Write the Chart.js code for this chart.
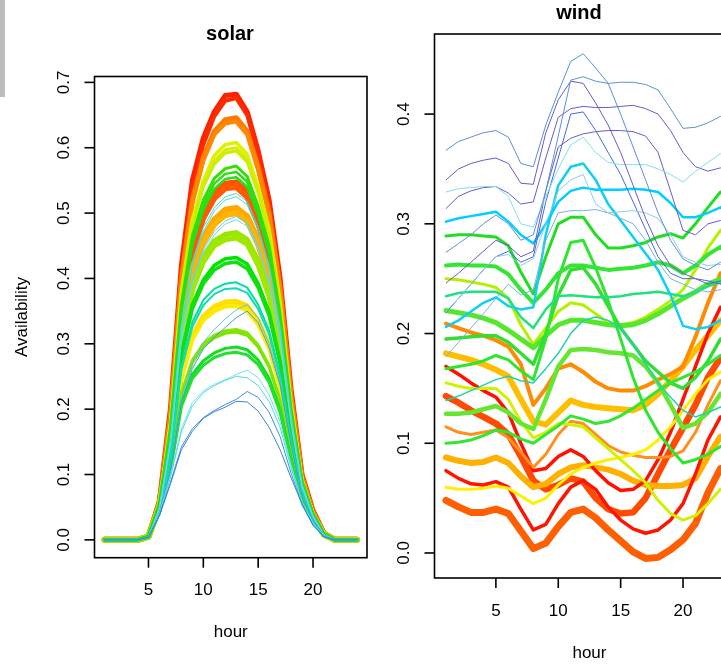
<!DOCTYPE html>
<html>
<head>
<meta charset="utf-8">
<title>solar / wind availability</title>
<script src="https://cdn.jsdelivr.net/npm/chart.js@4.4.1/dist/chart.umd.min.js"></script>
<style>
  html, body { margin: 0; padding: 0; background: #fff; }
  #page { position: relative; width: 721px; height: 665px; overflow: hidden; background: #fff; }
  #page canvas { position: absolute; left: 0; top: 0; }
  #strip { position: absolute; left: 0; top: 0; width: 5px; height: 97px; background: #bdbdbd; }
</style>
</head>
<body>
<div id="page">
  <div id="strip"></div>
  <canvas id="solarChart" width="721" height="665"></canvas>
  <canvas id="windChart" width="760" height="665"></canvas>
</div>
<script>
// hours of the day and axis tick labels
const hours = [1,2,3,4,5,6,7,8,9,10,11,12,13,14,15,16,17,18,19,20,21,22,23,24];
const hourTicks = [5, 10, 15, 20];
const solarTicks = [0.0, 0.1, 0.2, 0.3, 0.4, 0.5, 0.6, 0.7];
const windTicks = [0.0, 0.1, 0.2, 0.3, 0.4];

// solar availability profiles, one row per profile
const solarValues = [
  [0,0,0,0,0.005,0.06,0.20,0.42,0.55,0.615,0.655,0.680,0.682,0.655,0.595,0.52,0.40,0.23,0.10,0.045,0.01,0,0,0],
  [0,0,0,0,0.005,0.06,0.19,0.41,0.54,0.605,0.648,0.672,0.676,0.650,0.590,0.515,0.395,0.225,0.098,0.043,0.01,0,0,0],
  [0,0,0,0,0.005,0.058,0.19,0.40,0.52,0.585,0.625,0.643,0.646,0.625,0.57,0.50,0.385,0.22,0.097,0.043,0.01,0,0,0],
  [0,0,0,0,0.005,0.057,0.185,0.39,0.515,0.58,0.62,0.637,0.640,0.62,0.565,0.495,0.38,0.215,0.095,0.042,0.01,0,0,0],
  [0,0,0,0,0.005,0.054,0.165,0.345,0.445,0.50,0.53,0.545,0.547,0.532,0.49,0.432,0.333,0.193,0.087,0.038,0.009,0,0,0],
  [0,0,0,0,0.005,0.053,0.162,0.34,0.44,0.493,0.523,0.538,0.540,0.525,0.485,0.427,0.33,0.19,0.086,0.038,0.009,0,0,0],
  [0,0,0,0,0.005,0.052,0.155,0.325,0.415,0.462,0.49,0.505,0.508,0.495,0.458,0.404,0.313,0.183,0.083,0.037,0.008,0,0,0],
  [0,0,0,0,0.005,0.051,0.152,0.32,0.408,0.455,0.483,0.497,0.500,0.488,0.452,0.398,0.31,0.181,0.082,0.036,0.008,0,0,0],
  [0,0,0,0,0.005,0.046,0.125,0.25,0.312,0.342,0.357,0.364,0.365,0.358,0.335,0.298,0.237,0.143,0.068,0.031,0.007,0,0,0],
  [0,0,0,0,0.005,0.045,0.123,0.246,0.306,0.336,0.35,0.357,0.358,0.351,0.329,0.293,0.233,0.141,0.067,0.03,0.007,0,0,0],
  [0,0,0,0,0.005,0.057,0.18,0.38,0.49,0.55,0.588,0.605,0.608,0.59,0.54,0.475,0.365,0.21,0.093,0.041,0.01,0,0,0],
  [0,0,0,0,0.005,0.056,0.178,0.375,0.485,0.545,0.58,0.597,0.600,0.583,0.535,0.47,0.36,0.207,0.092,0.04,0.01,0,0,0],
  [0,0,0,0,0.005,0.056,0.175,0.37,0.48,0.54,0.575,0.592,0.595,0.578,0.53,0.465,0.357,0.205,0.091,0.04,0.01,0,0,0],
  [0,0,0,0,0.005,0.05,0.148,0.305,0.388,0.432,0.457,0.467,0.470,0.459,0.426,0.377,0.294,0.173,0.079,0.035,0.008,0,0,0],
  [0,0,0,0,0.005,0.05,0.146,0.3,0.382,0.425,0.45,0.459,0.462,0.452,0.42,0.372,0.29,0.171,0.078,0.035,0.008,0,0,0],
  [0,0,0,0,0.005,0.043,0.115,0.225,0.275,0.3,0.313,0.32,0.322,0.317,0.298,0.267,0.214,0.132,0.064,0.029,0.007,0,0,0],
  [0,0,0,0,0.005,0.043,0.113,0.222,0.271,0.296,0.309,0.316,0.318,0.313,0.295,0.264,0.212,0.131,0.063,0.029,0.007,0,0,0],
  [0,0,0,0,0.005,0.055,0.17,0.36,0.465,0.52,0.553,0.568,0.572,0.556,0.51,0.45,0.345,0.2,0.09,0.04,0.009,0,0,0],
  [0,0,0,0,0.005,0.054,0.168,0.355,0.458,0.512,0.545,0.560,0.563,0.548,0.503,0.443,0.34,0.197,0.089,0.039,0.009,0,0,0],
  [0,0,0,0,0.005,0.054,0.165,0.35,0.452,0.505,0.537,0.552,0.555,0.54,0.497,0.437,0.336,0.195,0.088,0.039,0.009,0,0,0],
  [0,0,0,0,0.005,0.048,0.14,0.285,0.36,0.398,0.42,0.43,0.432,0.422,0.392,0.348,0.273,0.162,0.075,0.034,0.008,0,0,0],
  [0,0,0,0,0.005,0.047,0.138,0.28,0.354,0.392,0.413,0.423,0.425,0.415,0.386,0.343,0.27,0.16,0.074,0.033,0.008,0,0,0],
  [0,0,0,0,0.005,0.042,0.108,0.208,0.253,0.274,0.286,0.293,0.295,0.291,0.275,0.247,0.199,0.124,0.061,0.028,0.006,0,0,0],
  [0,0,0,0,0.005,0.041,0.106,0.204,0.247,0.267,0.279,0.285,0.287,0.283,0.268,0.241,0.195,0.122,0.06,0.027,0.006,0,0,0],
  [0,0,0,0,0.004,0.045,0.13,0.265,0.333,0.367,0.384,0.392,0.394,0.386,0.36,0.32,0.253,0.152,0.071,0.032,0.007,0,0,0],
  [0,0,0,0,0.004,0.045,0.128,0.26,0.326,0.359,0.376,0.384,0.385,0.378,0.353,0.314,0.249,0.15,0.07,0.031,0.007,0,0,0],
  [0,0,0,0,0.004,0.05,0.155,0.33,0.425,0.478,0.508,0.525,0.530,0.518,0.478,0.42,0.325,0.19,0.085,0.037,0.008,0,0,0],
  [0,0,0,0,0.004,0.05,0.152,0.325,0.42,0.472,0.503,0.52,0.525,0.513,0.473,0.416,0.322,0.188,0.084,0.037,0.008,0,0,0],
  [0,0,0,0,0.004,0.048,0.148,0.31,0.398,0.445,0.472,0.488,0.495,0.485,0.45,0.396,0.307,0.18,0.081,0.036,0.008,0,0,0],
  [0,0,0,0,0.004,0.047,0.145,0.305,0.393,0.44,0.467,0.483,0.490,0.48,0.446,0.392,0.304,0.178,0.08,0.035,0.008,0,0,0],
  [0,0,0,0,0.004,0.042,0.11,0.215,0.27,0.302,0.322,0.338,0.352,0.360,0.34,0.30,0.24,0.147,0.07,0.031,0.007,0,0,0],
  [0,0,0,0,0.004,0.041,0.107,0.21,0.262,0.292,0.31,0.325,0.34,0.350,0.332,0.294,0.236,0.145,0.069,0.03,0.007,0,0,0],
  [0,0,0,0,0.004,0.04,0.098,0.17,0.21,0.228,0.238,0.245,0.253,0.260,0.248,0.222,0.18,0.115,0.058,0.026,0.006,0,0,0],
  [0,0,0,0,0.004,0.039,0.095,0.165,0.205,0.225,0.236,0.244,0.250,0.248,0.236,0.212,0.172,0.11,0.056,0.025,0.006,0,0,0],
  [0,0,0,0,0.004,0.038,0.088,0.142,0.17,0.187,0.198,0.207,0.215,0.227,0.218,0.195,0.158,0.102,0.053,0.023,0.005,0,0,0],
  [0,0,0,0,0.004,0.037,0.085,0.138,0.166,0.186,0.196,0.203,0.212,0.211,0.197,0.172,0.138,0.095,0.055,0.022,0.005,0,0,0]
];
const solarColors = [
  '#ff2000','#ff2a00','#ff7a00','#ff8800','#ff5200','#ff5a00','#ffa800','#ffb400','#ffe000','#ffea00',
  '#e0f000','#d4f000','#ccee00','#9ae600','#a0e800','#88e600','#80e400','#33e000','#2ee010','#22e020',
  '#00e400','#10e010','#10e020','#20e030','#00e0a0','#10ddb0','#40e0d0','#50d8e0','#60d0f0','#70d8f0',
  '#58c0ee','#3aa0e0','#70e0f0','#50d8e8','#3c8fe0','#3a84d8'
];
const solarWidths = [
  5, 4, 5, 4, 6, 6, 6, 6, 5, 4,
  3.5, 3, 3, 5.5, 5, 3, 3, 3, 2.5, 2.5,
  3.5, 3.5, 3, 3, 2, 2, 1, 1, 1, 1,
  1, 1, 1, 1, 1, 1
];

// wind availability profiles, one row per profile
const windValues = [
  [0.048,0.042,0.037,0.037,0.040,0.036,0.020,0.004,0.009,0.024,0.037,0.040,0.032,0.021,0.011,0.001,-0.005,-0.004,0.003,0.012,0.027,0.055,0.077,0.076],
  [0.143,0.137,0.130,0.124,0.118,0.108,0.088,0.066,0.058,0.062,0.068,0.065,0.050,0.040,0.036,0.037,0.050,0.072,0.094,0.114,0.135,0.160,0.178,0.175],
  [0.087,0.084,0.082,0.083,0.087,0.082,0.070,0.060,0.063,0.072,0.078,0.080,0.078,0.076,0.072,0.066,0.062,0.061,0.061,0.062,0.068,0.088,0.106,0.108],
  [0.182,0.179,0.176,0.172,0.167,0.161,0.140,0.120,0.117,0.128,0.139,0.135,0.133,0.132,0.131,0.130,0.135,0.145,0.157,0.170,0.185,0.198,0.212,0.208],
  [0.170,0.163,0.155,0.148,0.142,0.128,0.100,0.075,0.077,0.088,0.094,0.088,0.075,0.064,0.057,0.058,0.066,0.085,0.110,0.140,0.170,0.200,0.224,0.218],
  [0.075,0.068,0.063,0.062,0.065,0.060,0.040,0.021,0.026,0.045,0.060,0.066,0.058,0.042,0.030,0.022,0.018,0.021,0.030,0.045,0.072,0.103,0.124,0.121],
  [0.209,0.205,0.201,0.198,0.194,0.188,0.172,0.135,0.150,0.168,0.172,0.165,0.156,0.150,0.148,0.148,0.152,0.158,0.163,0.170,0.197,0.228,0.255,0.252],
  [0.115,0.110,0.108,0.110,0.112,0.105,0.092,0.078,0.090,0.108,0.120,0.118,0.108,0.098,0.092,0.089,0.087,0.087,0.088,0.093,0.110,0.135,0.157,0.155],
  [0.060,0.058,0.058,0.059,0.061,0.059,0.052,0.045,0.050,0.062,0.072,0.078,0.082,0.085,0.087,0.090,0.094,0.103,0.115,0.130,0.145,0.158,0.165,0.162],
  [0.155,0.152,0.150,0.150,0.150,0.140,0.120,0.105,0.110,0.118,0.117,0.115,0.105,0.095,0.085,0.075,0.064,0.048,0.036,0.030,0.034,0.045,0.058,0.057],
  [0.250,0.249,0.247,0.245,0.242,0.232,0.208,0.190,0.205,0.220,0.228,0.226,0.218,0.210,0.208,0.210,0.215,0.222,0.230,0.240,0.258,0.278,0.294,0.287],
  [0.127,0.127,0.128,0.131,0.134,0.128,0.118,0.113,0.140,0.170,0.185,0.186,0.185,0.183,0.182,0.180,0.170,0.155,0.135,0.114,0.118,0.128,0.145,0.141],
  [0.221,0.219,0.217,0.214,0.210,0.203,0.195,0.187,0.198,0.208,0.212,0.212,0.210,0.208,0.207,0.208,0.212,0.218,0.225,0.232,0.238,0.245,0.250,0.242],
  [0.262,0.263,0.262,0.262,0.261,0.254,0.240,0.228,0.240,0.255,0.262,0.262,0.260,0.258,0.259,0.260,0.262,0.265,0.262,0.255,0.262,0.272,0.279,0.272],
  [0.195,0.196,0.197,0.198,0.198,0.192,0.182,0.172,0.200,0.235,0.258,0.260,0.245,0.225,0.205,0.190,0.175,0.165,0.155,0.150,0.160,0.175,0.195,0.193],
  [0.168,0.170,0.172,0.175,0.180,0.176,0.166,0.158,0.195,0.250,0.283,0.285,0.260,0.230,0.195,0.160,0.130,0.110,0.095,0.082,0.085,0.090,0.097,0.095],
  [0.100,0.101,0.103,0.107,0.112,0.110,0.104,0.100,0.108,0.116,0.125,0.122,0.118,0.120,0.125,0.132,0.140,0.148,0.155,0.160,0.165,0.172,0.180,0.176],
  [0.289,0.290,0.290,0.289,0.288,0.280,0.256,0.236,0.270,0.300,0.306,0.306,0.290,0.278,0.278,0.280,0.283,0.288,0.291,0.287,0.300,0.315,0.329,0.320],
  [0.234,0.237,0.238,0.238,0.238,0.232,0.215,0.205,0.222,0.234,0.235,0.234,0.233,0.233,0.234,0.236,0.237,0.238,0.236,0.234,0.238,0.243,0.247,0.230],
  [0.206,0.212,0.220,0.228,0.233,0.225,0.222,0.224,0.290,0.335,0.352,0.355,0.340,0.318,0.303,0.288,0.273,0.258,0.235,0.207,0.204,0.206,0.212,0.206],
  [0.302,0.305,0.307,0.309,0.311,0.302,0.290,0.282,0.300,0.320,0.330,0.333,0.331,0.331,0.331,0.332,0.331,0.329,0.319,0.306,0.306,0.310,0.315,0.306],
  [0.139,0.143,0.148,0.153,0.158,0.161,0.157,0.155,0.168,0.182,0.200,0.212,0.215,0.212,0.205,0.190,0.172,0.155,0.142,0.130,0.124,0.128,0.133,0.127],
  [0.179,0.192,0.205,0.218,0.232,0.245,0.235,0.240,0.285,0.310,0.312,0.312,0.313,0.310,0.305,0.300,0.285,0.265,0.250,0.245,0.240,0.238,0.240,0.236],
  [0.219,0.232,0.245,0.258,0.270,0.275,0.265,0.270,0.320,0.360,0.400,0.402,0.385,0.365,0.345,0.320,0.295,0.270,0.255,0.250,0.250,0.248,0.245,0.240],
  [0.220,0.232,0.245,0.258,0.270,0.272,0.262,0.268,0.300,0.330,0.340,0.345,0.318,0.310,0.311,0.312,0.310,0.305,0.290,0.270,0.265,0.262,0.263,0.260],
  [0.246,0.255,0.265,0.275,0.285,0.280,0.270,0.275,0.330,0.370,0.378,0.382,0.384,0.385,0.385,0.384,0.380,0.365,0.330,0.294,0.290,0.300,0.303,0.293],
  [0.314,0.325,0.330,0.333,0.334,0.328,0.318,0.320,0.360,0.397,0.405,0.407,0.406,0.406,0.407,0.408,0.405,0.400,0.385,0.365,0.352,0.348,0.351,0.342],
  [0.329,0.332,0.333,0.334,0.334,0.325,0.300,0.297,0.325,0.350,0.372,0.379,0.365,0.356,0.354,0.354,0.354,0.350,0.345,0.338,0.348,0.356,0.364,0.352],
  [0.340,0.350,0.355,0.358,0.360,0.355,0.337,0.336,0.383,0.413,0.430,0.428,0.410,0.390,0.365,0.335,0.305,0.280,0.262,0.255,0.250,0.245,0.248,0.243],
  [0.274,0.282,0.290,0.300,0.308,0.300,0.285,0.290,0.330,0.380,0.431,0.434,0.430,0.428,0.429,0.429,0.427,0.422,0.405,0.387,0.388,0.392,0.398,0.385],
  [0.367,0.375,0.379,0.383,0.385,0.379,0.355,0.352,0.390,0.420,0.448,0.455,0.442,0.428,0.400,0.370,0.340,0.310,0.285,0.268,0.262,0.258,0.265,0.260]
];
const windColors = [
  '#ff5f00','#ff4a00','#ffb000','#ffbf00','#ff1000','#ff1400','#ff8c00','#ff9020','#fff000','#d2f000',
  '#b4f000','#66e633','#55e62e','#33e633','#33dd33','#2ee62e','#33e633','#22dd22','#20e080','#10d0f0',
  '#00cfff','#20d0b0','#7bafe0','#4169e1','#87ceeb','#6a5acd','#6a5acd','#80e0e8','#6a5acd','#5e8fd8',
  '#5b8fd9'
];
const windWidths = [
  7, 6.5, 6, 6, 3.5, 3.5, 4, 3, 3, 3,
  3, 4.5, 5, 4, 3.5, 3, 3, 3, 2.5, 2.5,
  2.5, 1.5, 1, 1, 1, 1, 1, 1, 1, 1,
  1
];

const baseFont = '"Liberation Sans", Arial, Helvetica, sans-serif';

// base-graphics style frame: box, outward ticks, rotated y labels, titles
const rFrame = {
  id: 'rFrame',
  afterDraw(chart, args, opts) {
    const ctx = chart.ctx;
    const a = chart.chartArea;
    const xs = chart.scales.x;
    const ys = chart.scales.y;
    ctx.save();
    ctx.strokeStyle = '#000';
    ctx.fillStyle = '#000';
    ctx.lineWidth = 1.6;
    ctx.strokeRect(a.left, a.top, a.right - a.left, a.bottom - a.top);

    ctx.font = '17px ' + baseFont;
    ctx.textAlign = 'center';
    ctx.textBaseline = 'middle';
    hourTicks.forEach(v => {
      const px = xs.getPixelForValue(v);
      ctx.beginPath();
      ctx.moveTo(px, a.bottom);
      ctx.lineTo(px, a.bottom + 10);
      ctx.stroke();
      ctx.fillText(String(v), px, a.bottom + 33);
    });
    opts.yTicks.forEach(v => {
      const py = ys.getPixelForValue(v);
      ctx.beginPath();
      ctx.moveTo(a.left, py);
      ctx.lineTo(a.left - 10, py);
      ctx.stroke();
      ctx.save();
      ctx.translate(a.left - 30, py);
      ctx.rotate(-Math.PI / 2);
      ctx.fillText(v.toFixed(1), 0, 0);
      ctx.restore();
    });

    ctx.fillText('hour', (a.left + a.right) / 2 + opts.xLabelShift, opts.xLabelY);
    if (opts.yLabel) {
      ctx.save();
      ctx.translate(opts.yLabelX, (a.top + a.bottom) / 2);
      ctx.rotate(-Math.PI / 2);
      ctx.fillText(opts.yLabel, 0, 0);
      ctx.restore();
    }

    ctx.font = 'bold 20px ' + baseFont;
    ctx.fillText(opts.title, opts.titleX, opts.titleY);
    ctx.restore();
  }
};

function makeSets(values, colors, widths) {
  return values.map((vals, i) => ({
    data: vals.map((v, j) => ({ x: hours[j], y: v })),
    borderColor: colors[i],
    borderWidth: widths[i],
    pointRadius: 0,
    fill: false,
    tension: 0,
    borderJoinStyle: 'round',
    borderCapStyle: 'round',
    // later rows are painted over earlier ones
    order: values.length - i
  }));
}

function makeChart(id, sets, yMin, yMax, padding, frame) {
  return new Chart(document.getElementById(id), {
    type: 'line',
    data: { datasets: sets },
    options: {
      responsive: false,
      devicePixelRatio: 1,
      animation: false,
      events: [],
      layout: { padding: padding },
      plugins: {
        legend: { display: false },
        tooltip: { enabled: false },
        rFrame: frame
      },
      scales: {
        x: { type: 'linear', min: 0.08, max: 24.92, display: false },
        y: { type: 'linear', min: yMin, max: yMax, display: false }
      }
    },
    plugins: [rFrame]
  });
}

makeChart('solarChart', makeSets(solarValues, solarColors, solarWidths),
  -0.0273, 0.709,
  { left: 94.5, top: 76.5, right: 354, bottom: 107.3 },
  { title: 'solar', titleX: 230, titleY: 34, yTicks: solarTicks,
    xLabelY: 632, xLabelShift: 0, yLabel: 'Availability', yLabelX: 22 });

makeChart('windChart', makeSets(windValues, windColors, windWidths),
  -0.0228, 0.473,
  { left: 434.5, top: 34, right: 15.6, bottom: 87 },
  { title: 'wind', titleX: 579, titleY: 13, yTicks: windTicks,
    xLabelY: 653, xLabelShift: 0, yLabel: '', yLabelX: 0 });
</script>
</body>
</html>
